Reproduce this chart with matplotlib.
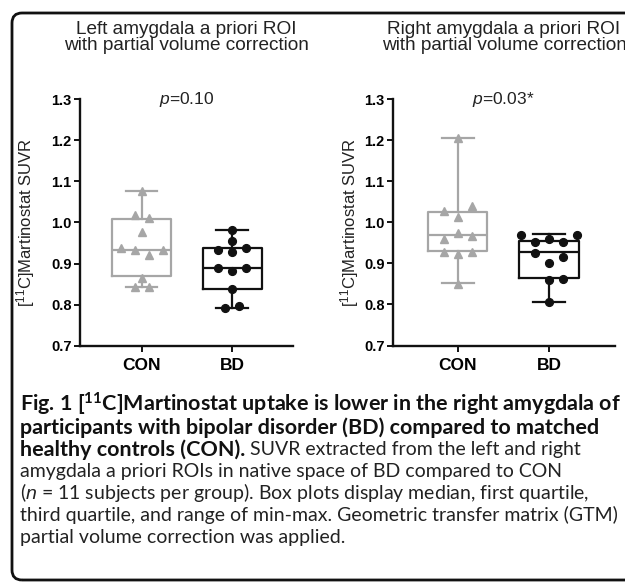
import numpy as np
import matplotlib
matplotlib.use('Agg')
import matplotlib.pyplot as plt
from matplotlib.patches import FancyBboxPatch

# ── Data ────────────────────────────────────────────────────────────────────
GROUPS = ['CON', 'BD']
PANEL_TITLES = ['Left amygdala a priori ROI\nwith partial volume correction',
                'Right amygdala a priori ROI\nwith partial volume correction']
P_LABELS = [r'$\mathit{p}$=0.10', r'$\mathit{p}$=0.03*']

# individual subjects (SUVR) and their horizontal scatter slot
left_con     = [1.076, 1.019, 1.011, 0.977, 0.938, 0.934, 0.922, 0.933, 0.865, 0.843, 0.843]
left_con_pos = [0, -0.5, 0.5, 0, -1.5, -0.5, 0.5, 1.5, 0, -0.5, 0.5]
left_bd      = [0.981, 0.955, 0.934, 0.927, 0.938, 0.890, 0.882, 0.890, 0.837, 0.791, 0.797]
left_bd_pos  = [0, 0, -1, 0, 1, -1, 0, 1, 0, -0.5, 0.5]

right_con     = [1.206, 1.027, 1.040, 1.012, 0.959, 0.975, 0.967, 0.929, 0.922, 0.927, 0.849]
right_con_pos = [0, -1, 1, 0, -1, 0, 1, -1, 0, 1, 0]
right_bd      = [0.969, 0.969, 0.953, 0.959, 0.953, 0.926, 0.915, 0.902, 0.860, 0.861, 0.807]
right_bd_pos  = [-2, 2, -1, 0, 1, -1, 1, 0, 0, 1, 0]

# box statistics: whislo, q1, median, q3, whishi
left_con_box  = [0.843, 0.870, 0.934, 1.009, 1.076]
left_bd_box   = [0.791, 0.838, 0.890, 0.937, 0.981]
right_con_box = [0.852, 0.930, 0.969, 1.026, 1.206]
right_bd_box  = [0.807, 0.864, 0.927, 0.955, 0.972]

Y_TICKS = [0.7, 0.8, 0.9, 1.0, 1.1, 1.2, 1.3]

CAPTION_BOLD = ['Fig. 1 [$^{\\mathbf{11}}$C]Martinostat uptake is lower in the right amygdala of',
                'participants with bipolar disorder (BD) compared to matched',
                'healthy controls (CON).']
CAPTION_REG = [' SUVR extracted from the left and right',
               'amygdala a priori ROIs in native space of BD compared to CON',
               '($\\mathit{n}$ = 11 subjects per group). Box plots display median, first quartile,',
               'third quartile, and range of min-max. Geometric transfer matrix (GTM)',
               'partial volume correction was applied.']

# ── Style ───────────────────────────────────────────────────────────────────
plt.rcParams['font.family'] = ['Liberation Sans', 'DejaVu Sans']
plt.rcParams['mathtext.fontset'] = 'custom'
plt.rcParams['mathtext.rm'] = 'Liberation Sans'
plt.rcParams['mathtext.it'] = 'Liberation Sans:italic'
plt.rcParams['mathtext.bf'] = 'Lato:bold'

GREY = '#a6a6a6'
BLACK = '#111111'
SLOT = 0.155
W, H = 625, 582

fig = plt.figure(figsize=(W / 100, H / 100), dpi=100)


def px_axes(x0, x1, ytop, ybot):
    return fig.add_axes([x0 / W, 1 - ybot / H, (x1 - x0) / W, (ybot - ytop) / H])


panels = [
    (px_axes(80, 293, 99.3, 345.7), (-0.68, 1.67),
     [(left_con, left_con_pos, left_con_box), (left_bd, left_bd_pos, left_bd_box)], -0.255),
    (px_axes(393, 615, 99.3, 345.5), (-0.71, 1.725),
     [(right_con, right_con_pos, right_con_box), (right_bd, right_bd_pos, right_bd_box)], -0.195),
]

for i, (ax, xlim, series, ylab_x) in enumerate(panels):
    for g, (vals, pos, box) in enumerate(series):
        col = GREY if g == 0 else BLACK
        stats = [dict(whislo=box[0], q1=box[1], med=box[2], q3=box[3], whishi=box[4])]
        lp = dict(color=col, lw=1.6)
        ax.bxp(stats, positions=[g], widths=0.65, capwidths=0.35, showfliers=False,
               boxprops=lp, medianprops=lp, whiskerprops=lp, capprops=lp)
        x = g + np.array(pos) * SLOT
        ax.plot(x, vals, ls='none', marker='^' if g == 0 else 'o',
                ms=5.5 if g == 0 else 5.6, color=col, mec=col, zorder=5, clip_on=False)

    ax.set_xlim(*xlim)
    ax.set_ylim(0.7, 1.3)
    ax.set_yticks(Y_TICKS)
    ax.set_yticklabels([f'{t:.1f}' for t in Y_TICKS], fontweight='bold', fontsize=10.5)
    ax.set_xticks([0, 1])
    ax.set_xticklabels(GROUPS, fontweight='bold', fontsize=12.5)
    ax.tick_params(axis='both', direction='out', length=4, width=1.4, color=BLACK, pad=2)
    ax.tick_params(axis='x', pad=5)
    for s in ['top', 'right']:
        ax.spines[s].set_visible(False)
    for s in ['left', 'bottom']:
        ax.spines[s].set_linewidth(1.7)
        ax.spines[s].set_color(BLACK)

    ax.set_ylabel(r'[$^{\mathrm{11}}$C]Martinostat SUVR', fontsize=12, va='center', color='#222222')
    ax.yaxis.set_label_coords(ylab_x, 0.5)

    ax.text(0.5, 1.3, P_LABELS[i], ha='center', va='center', fontsize=12.5, color='#222222')
    ax.text(0.5, (345.7 - 50) / 246.4, PANEL_TITLES[i], transform=ax.transAxes,
            ha='center', va='baseline', fontsize=13.7, linespacing=0.95, color='#222222')

# ── Caption ────────────────────────────────────────────────────────────────
renderer = fig.canvas.get_renderer()
X0 = 20 / W
BASE0, STEP = 411.7, 21.9


def line_y(k):
    return 1 - (BASE0 + k * STEP) / H


def fit(t, target):
    w = t.get_window_extent(renderer).width
    t.set_fontsize(t.get_fontsize() * target / w)
    return t.get_fontsize()


bold_txt = [fig.text(X0, line_y(k), s, fontsize=12, fontweight='bold', family='Lato',
                     va='baseline', ha='left', color=BLACK) for k, s in enumerate(CAPTION_BOLD)]
bsize = fit(bold_txt[0], 600)
for t in bold_txt[1:]:
    t.set_fontsize(bsize)

reg_txt = []
for k, s in enumerate(CAPTION_REG):
    reg_txt.append(fig.text(X0, line_y(k + 2), s, fontsize=12, family='Lato',
                            va='baseline', ha='left', color='#222222'))
rsize = fit(reg_txt[3], 595)
for t in reg_txt:
    t.set_fontsize(rsize)
x_end = bold_txt[2].get_window_extent(renderer).x1
reg_txt[0].set_x(x_end / W)

# rounded frame, open to the right
frame = FancyBboxPatch((12, 2), 660, 567, boxstyle='round,pad=0,rounding_size=10',
                       transform=None, fill=False, lw=2, ec=BLACK)
fig.add_artist(frame)

fig.savefig('out.png', dpi=100)
